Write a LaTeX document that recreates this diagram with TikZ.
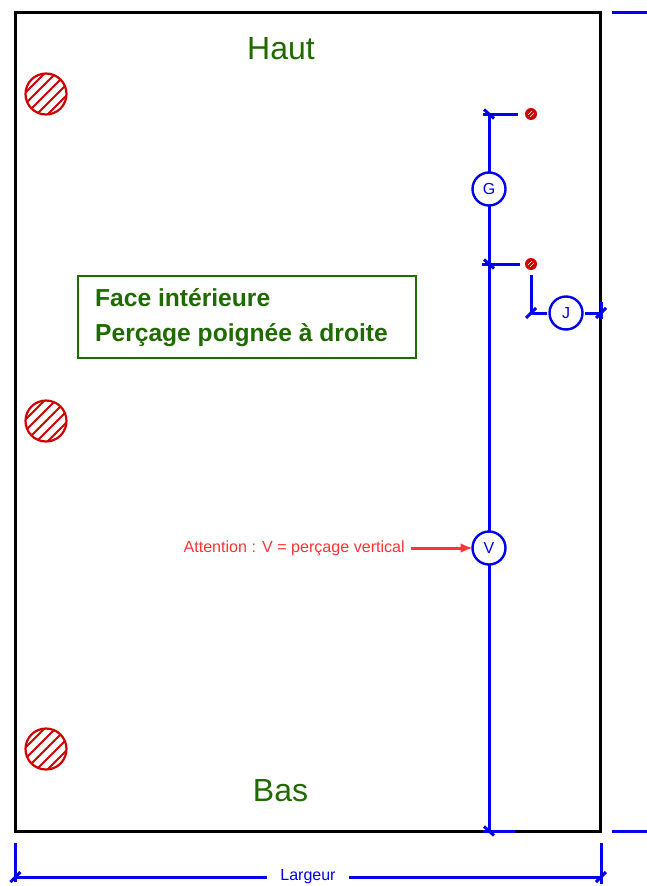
\documentclass[tikz,border=0pt]{standalone}
\usepackage{fontspec}
\setmainfont{Liberation Sans}
\usetikzlibrary{arrows.meta}
\definecolor{dimblue}{HTML}{0000EE}
\definecolor{holered}{HTML}{D00000}
\definecolor{notered}{HTML}{FF3333}
\definecolor{labelgreen}{HTML}{1F6B00}
\tikzset{
  frameline/.style={draw=black,line width=3pt},
  dimline/.style={draw=dimblue,line width=3pt},
  dimlabel/.style={circle,draw=dimblue,line width=2.4pt,minimum size=33pt,inner sep=0pt,outer sep=0pt,text=dimblue,font=\fontsize{16}{19}\selectfont},
  bigword/.style={text=labelgreen,font=\fontsize{32}{38}\selectfont,inner sep=0pt},
  hole/.style={circle,draw=holered,line width=2.2pt,minimum size=41pt,inner sep=0pt,outer sep=0pt},
  smallhole/.style={circle,fill=holered,minimum size=12pt,inner sep=0pt,outer sep=0pt},
  infobox/.style={draw=labelgreen,line width=2.4pt,minimum width=338pt,minimum height=82.5pt,inner sep=0pt},
  boxtext/.style={text=labelgreen,font=\bfseries\fontsize{24.6}{28}\selectfont,inner sep=0pt,anchor=base west},
}
\newcommand{\hatchhole}[1]{%
  \begin{scope}
    \clip (#1.center) circle[radius=20.5pt];
    \foreach \o in {-33,-22,-11,0,11,22,33}
      \draw[holered,line width=2pt] (#1.center) ++(\o-30,30) -- ++(60,-60);
  \end{scope}}
\newcommand{\backtick}[1]{\draw[dimline] (#1) ++(-5,-4.5) -- ++(10,9);}
\newcommand{\slashtick}[1]{\draw[dimline] (#1) ++(-5,5) -- ++(10,-10);}
\begin{document}
\begin{tikzpicture}[x=1pt,y=-1pt]
\useasboundingbox (0,0) rectangle (647,886);
% frame
\node[frameline,minimum width=585.5pt,minimum height=819pt,inner sep=0pt,outer sep=0pt,anchor=north west] (panel) at (15,12.2) {};
% hatched holes
\node[hole] (h1) at (46,94) {};
\node[hole] (h2) at (46,421) {};
\node[hole] (h3) at (46,749) {};
\hatchhole{h1}\hatchhole{h2}\hatchhole{h3}
% small holes
\node[smallhole] (s1) at (531,114) {};
\node[smallhole] (s2) at (531,264) {};
\foreach \s in {s1,s2}{
  \draw[white,line width=.6pt] (\s.center) ++(-3,1) -- ++(4,-4);
  \draw[white,line width=.6pt] (\s.center) ++(-1,3) -- ++(4,-4);
}
% texts
\node[bigword] (haut) at (281,49) {Haut};
\node[bigword] (bas) at (280.5,791) {Bas};
\node[infobox,anchor=north west] (info) at (76.8,274.5) {};
\node[boxtext] (t1) at (95,306) {Face intérieure};
\node[boxtext] (t2) at (95,341) {Perçage poignée à droite};
% dimension circles
\node[dimlabel] (G) at (489,189) {G};
\node[dimlabel] (V) at (489,548) {V};
\node[dimlabel] (J) at (566,313) {J};
% coordinates
\coordinate (gt) at (489,114);
\coordinate (gte) at (518,114);
\coordinate (gm) at (489,264);
\coordinate (gme) at (520,264);
\coordinate (vb) at (489,831);
\coordinate (vbe) at (515,831);
\coordinate (jt) at (531,275);
\coordinate (jc) at (531,313);
\coordinate (jr) at (601,313);
\coordinate (jrt) at (601,302);
\coordinate (rt1) at (612,12);
\coordinate (rt2) at (647,12);
\coordinate (rb1) at (612,831);
\coordinate (rb2) at (647,831);
\coordinate (bl1) at (15.5,843);
\coordinate (bl2) at (15.5,882);
\coordinate (br1) at (601,843);
\coordinate (br2) at (601,884);
\coordinate (wl) at (15.5,877);
\coordinate (wr) at (601,877);
% dimension lines
\draw[dimline] (G) -- (gt);
\draw[dimline] ([xshift=-6pt]gt) -- (gte);
\backtick{gt}
\draw[dimline] (G) -- (gm);
\draw[dimline] (gm) -- (V);
\draw[dimline] ([xshift=-7pt]gm) -- (gme);
\backtick{gm}
\draw[dimline] (V) -- (vb);
\draw[dimline] ([xshift=-6pt]vb) -- (vbe);
\backtick{vb}
\draw[dimline] (jt) -- (jc);
\draw[dimline,shorten >=3pt] (jc) -- (J);
\slashtick{jc}
\draw[dimline,shorten <=2.5pt] (J) -- (jr);
\draw[dimline] (jrt) -- ++(0,17);
\slashtick{jr}
\draw[dimline] (rt1) -- (rt2);
\draw[dimline] (rb1) -- (rb2);
\draw[dimline] (bl1) -- (bl2);
\draw[dimline] (br1) -- (br2);
\node[text=dimblue,font=\fontsize{16}{19}\selectfont,inner xsep=13.5pt,inner ysep=0pt] (larg) at (308,877) {Largeur};
\draw[dimline] (wl) -- (larg.west |- wl);
\draw[dimline] (larg.east |- wr) -- (wr);
\slashtick{wl}
\slashtick{wr}
% note
\node[text=notered,font=\fontsize{16.1}{19}\selectfont,inner xsep=6pt,inner ysep=0pt,anchor=east] (note) at (411,548.5) {Attention : V = perçage vertical};
\draw[notered,line width=3pt,-{Latex[length=12pt,width=10pt]}] (note.east |- V) -- (V);
\end{tikzpicture}
\end{document}
